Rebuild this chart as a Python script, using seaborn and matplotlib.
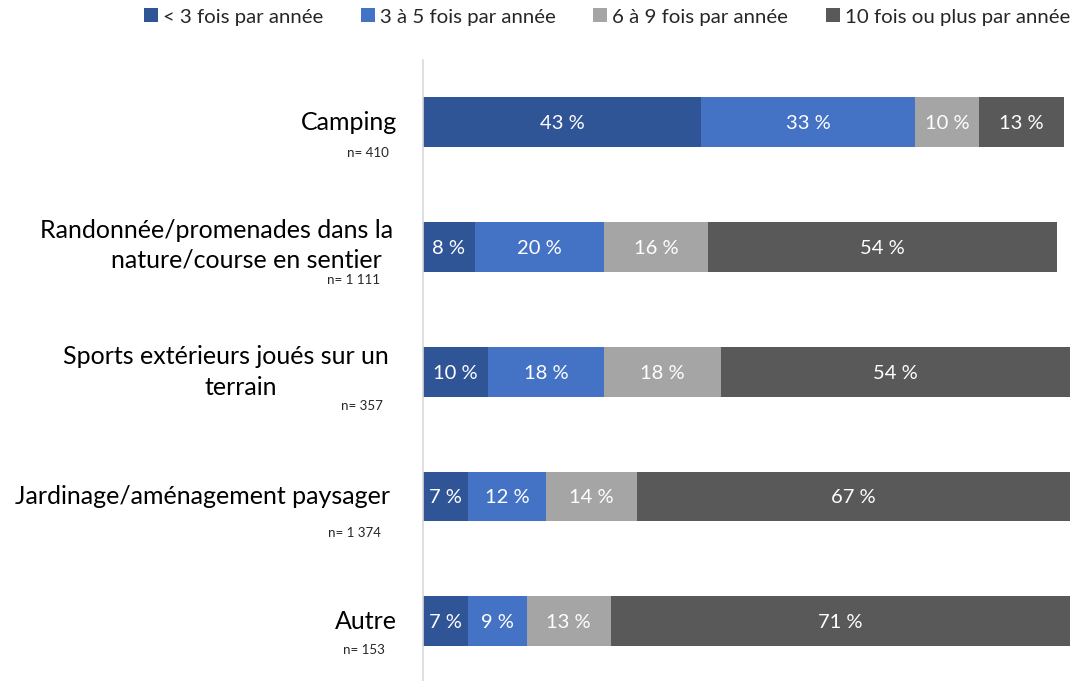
import matplotlib
matplotlib.use("Agg")
import matplotlib.pyplot as plt
import matplotlib.transforms as mtransforms
from matplotlib.patches import Patch
import numpy as np
import pandas as pd
import seaborn as sns

sns.set_theme(style="white")
plt.rcParams["font.family"] = ["Lato", "DejaVu Sans"]

categories = [
    "Camping",
    "Randonnée/promenades dans la\nnature/course en sentier",
    "Sports extérieurs joués sur un\nterrain",
    "Jardinage/aménagement paysager",
    "Autre",
]
sample_sizes = ["n= 410", "n= 1 111", "n= 357", "n= 1 374", "n= 153"]
series_names = [
    "< 3 fois par année",
    "3 à 5 fois par année",
    "6 à 9 fois par année",
    "10 fois ou plus par année",
]
less_than_3 = [43, 8, 10, 7, 7]
from_3_to_5 = [33, 20, 18, 12, 9]
from_6_to_9 = [10, 16, 18, 14, 13]
ten_or_more = [13, 54, 54, 67, 71]
colors = ["#2F5597", "#4472C4", "#A5A5A5", "#595959"]

values = np.array([less_than_3, from_3_to_5, from_6_to_9, ten_or_more], dtype=float)
cumulative = np.cumsum(values, axis=0)

fig = plt.figure(figsize=(10.76, 6.81), dpi=100)
ax = fig.add_axes([423 / 1076, 0.0, (1070 - 423) / 1076, 1 - 60 / 681])

# Stacked bars: draw cumulative totals from the outermost segment inwards
for i in range(len(series_names) - 1, -1, -1):
    df = pd.DataFrame({"cat": categories, "total": cumulative[i]})
    sns.barplot(data=df, x="total", y="cat", orient="h", color=colors[i],
                width=0.4, ax=ax, saturation=1, edgecolor="none", linewidth=0)

# Segment value labels
for i in range(len(series_names)):
    for j in range(len(categories)):
        mid = cumulative[i, j] - values[i, j] / 2
        ax.text(mid, j, f"{int(values[i, j])} %", ha="center", va="center_baseline",
                color="white", fontsize=14.5)

ax.set_xlim(0, 100)
ax.set_ylim(len(categories) - 0.52, -0.5)
ax.set_xticks([])
ax.set_yticks([])
ax.set_xlabel("")
ax.set_ylabel("")
for side in ["top", "right", "bottom"]:
    ax.spines[side].set_visible(False)
ax.spines["left"].set_color("#D9D9D9")
ax.spines["left"].set_linewidth(1.2)

# Category labels and sample sizes, positioned left of the axis
trans = mtransforms.blended_transform_factory(fig.transFigure, ax.transData)
label_lines = [
    [("Camping", 397, "right", 0.0)],
    [("Randonnée/promenades dans la", 217, "center", -0.13),
     ("nature/course en sentier", 246, "center", 0.105)],
    [("Sports extérieurs joués sur un", 226, "center", -0.12),
     ("terrain", 241, "center", 0.13)],
    [("Jardinage/aménagement paysager", 390, "right", 0.0)],
    [("Autre", 397, "right", 0.0)],
]
n_positions = [(389, 0.245), (380, 0.265), (383, 0.275), (381, 0.295), (385, 0.235)]
for j, lines in enumerate(label_lines):
    for text, xpx, ha, dy in lines:
        ax.text(xpx / 1076, j + dy, text, transform=trans, ha=ha, va="center",
                fontsize=18, color="black")
    nx, ndy = n_positions[j]
    ax.text(nx / 1076, j + ndy, sample_sizes[j], transform=trans, ha="right",
            va="center", fontsize=9.6, color="#262626")

handles = [Patch(facecolor=c, edgecolor="none") for c in colors]
fig.legend(handles, series_names, loc="center", bbox_to_anchor=(607 / 1076, 1 - 17 / 681),
           ncol=4, frameon=False, fontsize=14.7, handlelength=0.68, handleheight=0.68,
           handletextpad=0.25, columnspacing=1.85, borderaxespad=0, borderpad=0)

fig.savefig("out.png", dpi=100)
